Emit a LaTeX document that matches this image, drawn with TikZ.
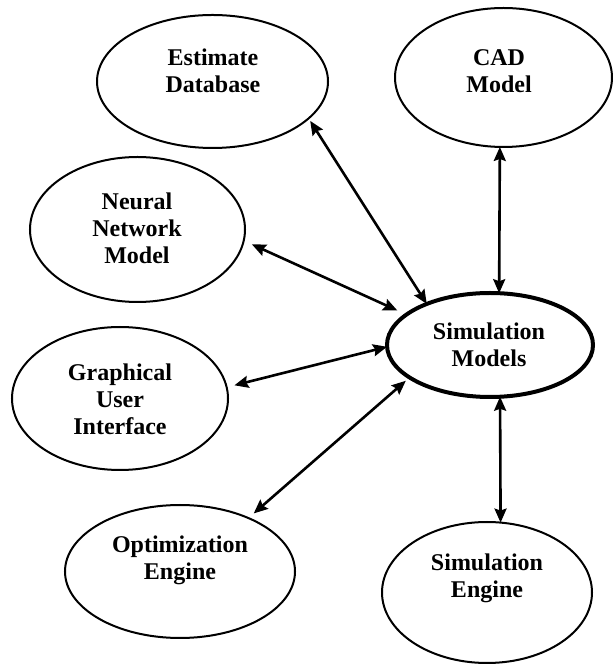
\documentclass[tikz,border=0pt]{standalone}
\usepackage{fontspec}
\setmainfont{Liberation Serif}
\usetikzlibrary{shapes.geometric,arrows.meta}
\begin{document}
\begin{tikzpicture}[x=1pt,y=1pt,
  oval/.style={draw,ellipse,line width=2pt,inner sep=0pt,outer sep=0pt},
  bigoval/.style={oval,line width=4pt},
  lbl/.style={align=center,inner sep=0pt,font=\fontsize{24}{27}\selectfont\bfseries},
  arr/.style={line width=2.6pt,{Stealth[length=14pt,width=12pt,inset=2pt]}-{Stealth[length=14pt,width=12pt,inset=2pt]}}]
\useasboundingbox (0,0) rectangle (613,664);
% ovals
\node[oval,minimum width=231pt,minimum height=133pt] (ed) at (212.5,582.5) {};
\node[oval,minimum width=217pt,minimum height=139pt] (cad) at (503.5,586.5) {};
\node[oval,minimum width=215pt,minimum height=145pt] (nn) at (137.5,434.5) {};
\node[bigoval,minimum width=206pt,minimum height=104pt] (sm) at (490,319) {};
\node[oval,minimum width=216pt,minimum height=143pt] (gui) at (120,265.5) {};
\node[oval,minimum width=230pt,minimum height=133pt] (opt) at (180,92.5) {};
\node[oval,minimum width=210pt,minimum height=141pt] (se) at (487,71.5) {};
% labels
\node[lbl] (edt) at (213,593) {Estimate\\Database};
\node[lbl] (cadt) at (499,593) {CAD\\Model};
\node[lbl] (nnt) at (137,436) {Neural\\Network\\Model};
\node[lbl] (smt) at (489,319) {Simulation\\Models};
\node[lbl] (guit) at (120,265) {Graphical\\User\\Interface};
\node[lbl] (optt) at (180,104) {Optimization\\Engine};
\node[lbl] (set) at (487,85.5) {Simulation\\Engine};
% connectors
\draw[arr,shorten <=3pt] (ed.-21.2) -- (sm.147.7);
\draw[arr] (cad.-93.7) -- (sm.80.2);
\draw[arr,shorten <=9pt,shorten >=10pt] (nn.-6.7) -- (sm.160.8);
\draw[arr,shorten <=8pt] (gui.6.7) -- (sm.181.1);
\draw[arr,shorten <=7pt,shorten >=5pt] (opt.38.7) -- (sm.202.4);
\draw[arr] (sm.-79.1) -- (se.79.6);
\end{tikzpicture}
\end{document}
